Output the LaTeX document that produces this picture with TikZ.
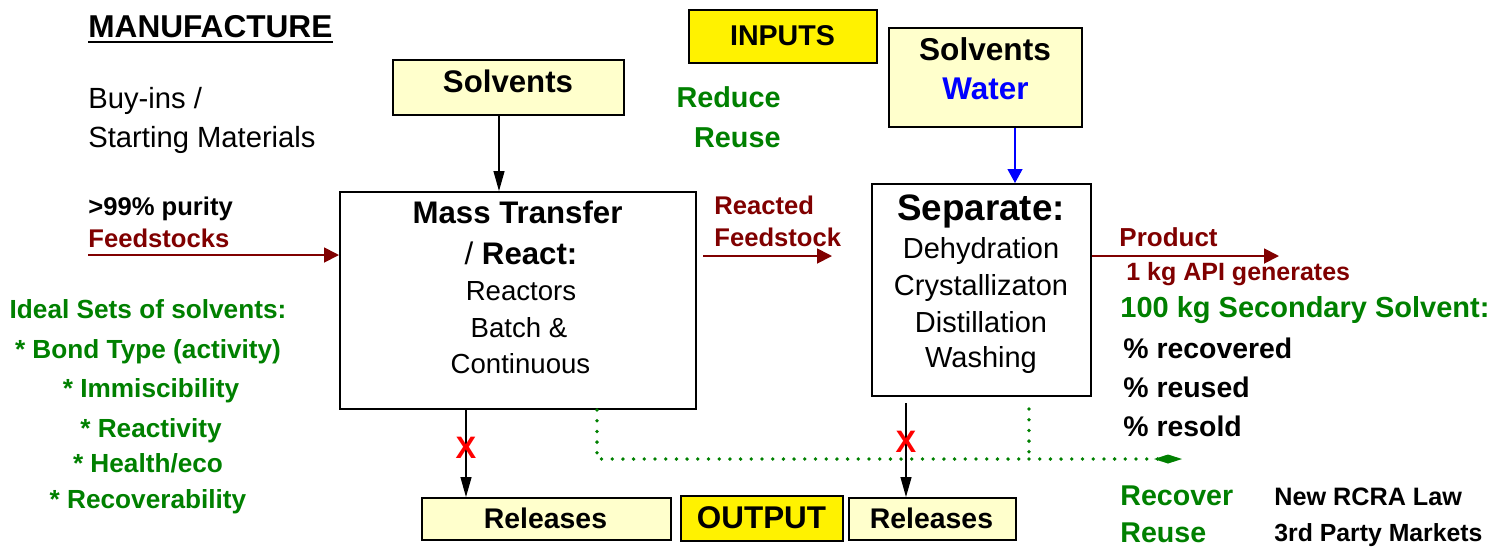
\documentclass[tikz,border=0pt]{standalone}
\usepackage{fontspec}
\setmainfont{Liberation Sans}
\usetikzlibrary{arrows.meta}

\definecolor{feedred}{HTML}{800000}
\definecolor{ecogreen}{HTML}{008000}
\definecolor{paleyel}{HTML}{FFFFCC}

\tikzset{
  inbox/.style={draw=black, line width=1pt, fill=paleyel, inner sep=0pt},
  keybox/.style={draw=black, line width=1pt, fill=yellow, inner sep=0pt},
  procbox/.style={draw=black, line width=1pt, fill=white, inner sep=0pt},
  txt/.style={inner sep=0pt},
  sz/.style={txt, font=\fontsize{#1}{#1}\selectfont},
  bsz/.style={txt, font=\bfseries\fontsize{#1}{#1}\selectfont},
  flow/.style={draw=feedred, line width=0.9pt, -{Triangle[length=7.5pt,width=7.5pt]}},
  relarrow/.style={line width=0.6pt, -{Triangle[length=10pt,width=5.5pt]}},
  waterarrow/.style={draw=blue, line width=0.6pt, -{Triangle[length=7pt,width=7.5pt]}},
  recline/.style={draw=ecogreen, line width=1.9pt, line cap=round, dash pattern=on 0pt off 5.35pt},
  xmark/.style={txt, text=red, font=\bfseries\fontsize{15.5}{15.5}\selectfont},
}

\begin{document}
\begin{tikzpicture}[x=0.5pt, y=-0.5pt]
  \useasboundingbox (0,0) rectangle (1499,548);

  % boxes
  \node[inbox, minimum width=115.5pt, minimum height=27.5pt] (solv1) at (508.5,87.5) {};
  \node[keybox, minimum width=94pt, minimum height=26.5pt] (inputs) at (783,36.5) {};
  \node[inbox, minimum width=96.5pt, minimum height=49.5pt] (solv2) at (985.5,77.5) {};
  \node[procbox, minimum width=178pt, minimum height=108.5pt] (react) at (518,300.5) {};
  \node[procbox, minimum width=109.5pt, minimum height=106pt] (sep) at (981.5,290) {};
  \node[inbox, minimum width=124.5pt, minimum height=21pt] (rel1) at (546.5,519) {};
  \node[keybox, minimum width=81pt, minimum height=22.5pt] (output) at (762,518.5) {};
  \node[inbox, minimum width=83.5pt, minimum height=21pt] (rel2) at (932.5,519) {};

  % left column
  \node[bsz=15.8, anchor=base west] (manu) at (88,37) {MANUFACTURE};
  \draw[line width=1.1pt] ([yshift=-2.6pt]manu.base west) -- ([yshift=-2.6pt]manu.base east);
  \node[sz=14.6, anchor=base west] (buyin) at (88,108) {Buy-ins /};
  \node[sz=14.6, anchor=base west] (startmat) at (88,147) {Starting Materials};
  \node[bsz=12.8, anchor=base west] (purity) at (88,215) {>99\% purity};
  \node[bsz=12.8, anchor=base west, text=feedred] (feedlbl) at (88,247) {Feedstocks};

  \node[bsz=13.1, anchor=base, text=ecogreen] (ideal) at (148,318) {Ideal Sets of solvents:};
  \node[bsz=13.1, anchor=base, text=ecogreen] (bond) at (148,358) {* Bond Type (activity)};
  \node[bsz=13.1, anchor=base, text=ecogreen] (immis) at (151,397) {* Immiscibility};
  \node[bsz=13.1, anchor=base, text=ecogreen] (reactv) at (151,437) {* Reactivity};
  \node[bsz=13.1, anchor=base, text=ecogreen] (health) at (148,472) {* Health/eco};
  \node[bsz=13.1, anchor=base, text=ecogreen] (recovb) at (148,508) {* Recoverability};

  % inputs
  \node[bsz=15.6, anchor=base] (solvtxt1) at (508,92.5) {Solvents};
  \node[bsz=14.3, anchor=base] (inputtxt) at (782.5,45) {INPUTS};
  \node[bsz=14.4, anchor=base east, text=ecogreen] (reduce) at (781,107) {Reduce};
  \node[bsz=14.4, anchor=base east, text=ecogreen] (reuse1) at (781,147) {Reuse};
  \node[bsz=15.8, anchor=base] (solvtxt2) at (985,60) {Solvents};
  \node[bsz=15.7, anchor=base, text=blue] (water) at (985.5,99.3) {Water};

  % process boxes
  \node[bsz=15.6, anchor=base] (mt1) at (517.5,223) {Mass Transfer};
  \node[bsz=15.6, anchor=base] (mt2) at (521,264) {{\mdseries /} React:};
  \node[sz=13.8, anchor=base] (mt3) at (521,300) {Reactors};
  \node[sz=13.8, anchor=base] (mt4) at (519,337) {Batch \&};
  \node[sz=13.8, anchor=base] (mt5) at (520.5,373) {Continuous};

  \node[bsz=18.4, anchor=base] (sp1) at (981,220) {Separate:};
  \node[sz=14.5, anchor=base] (sp2) at (981,258) {Dehydration};
  \node[sz=14.5, anchor=base] (sp3) at (981,295) {Crystallizaton};
  \node[sz=14.5, anchor=base] (sp4) at (981,332) {Distillation};
  \node[sz=14.5, anchor=base] (sp5) at (981,367) {Washing};

  \node[bsz=12.8, anchor=base west, text=feedred] (rf1) at (714,214) {Reacted};
  \node[bsz=12.8, anchor=base west, text=feedred] (rf2) at (714,246) {Feedstock};

  % right column
  \node[bsz=13, anchor=base west, text=feedred] (prod) at (1119,246) {Product};
  \node[bsz=12.5, anchor=base west, text=feedred] (api) at (1126,280) {1 kg API generates};
  \node[bsz=14.5, anchor=base west, text=ecogreen] (secsolv) at (1120,317) {100 kg Secondary Solvent:};
  \node[bsz=14.2, anchor=base west] (pct1) at (1123,358) {\% recovered};
  \node[bsz=14.2, anchor=base west] (pct2) at (1123,397) {\% reused};
  \node[bsz=14.2, anchor=base west] (pct3) at (1123,436) {\% resold};
  \node[bsz=14.3, anchor=base west, text=ecogreen] (recover) at (1120,505) {Recover};
  \node[bsz=14.3, anchor=base west, text=ecogreen] (reuse2) at (1120,542) {Reuse};
  \node[bsz=12.6, anchor=base west] (rcra) at (1274,505) {New RCRA Law};
  \node[bsz=12.4, anchor=base west] (market) at (1274,541) {3rd Party Markets};

  % outputs
  \node[bsz=14.2, anchor=base] (rel1txt) at (545.5,528) {Releases};
  \node[bsz=15.7, anchor=base] (outtxt) at (761.5,528) {OUTPUT};
  \node[bsz=14.2, anchor=base] (rel2txt) at (931.5,528) {Releases};

  % arrows
  \coordinate (feedin) at (88,255);
  \coordinate (rfa) at (703,256);
  \coordinate (rfb) at (832,256);
  \coordinate (prodend) at (1279,256);
  \coordinate (leak1) at (466,0);
  \coordinate (leak2) at (906,0);

  \draw[relarrow] ([xshift=-4.75pt]solv1.south) -- ([xshift=-4.75pt]solv1.south |- react.north);
  \draw[waterarrow] ([xshift=14.75pt]solv2.south) -- ([xshift=14.75pt]solv2.south |- sep.north);
  \draw[flow] (feedin) -- (feedin -| react.west);
  \draw[flow] (rfa) -- (rfb);
  \draw[flow] (prodend -| sep.east) -- (prodend);
  \draw[relarrow] (leak1 |- react.south) -- (leak1 |- rel1.north);
  \draw[relarrow] ([yshift=-3pt]leak2 |- sep.south) -- (leak2 |- rel2.north);

  \node[xmark] (x1) at (466,448) {X};
  \node[xmark] (x2) at (906,442) {X};

  % recovery loop
  \coordinate (rtap) at (597,459);
  \coordinate (stap) at (1029,459);
  \coordinate (recov) at (1182,459);
  \draw[recline] (rtap |- react.south) -- (rtap) -- (stap);
  \draw[recline, -{Diamond[length=14pt,width=4.5pt]}] (stap) -- (recov);
  \draw[recline] ([yshift=-6pt]stap |- sep.south) -- (stap);
\end{tikzpicture}
\end{document}
